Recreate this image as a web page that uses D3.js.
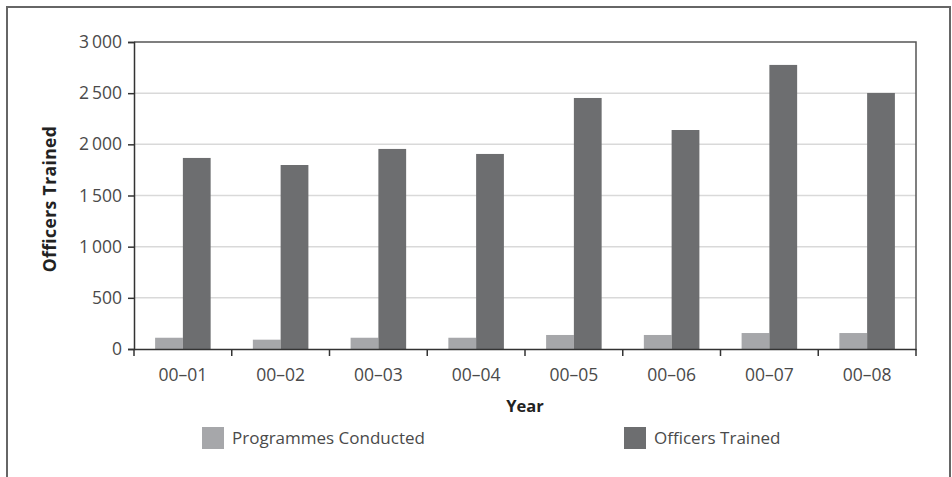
<!DOCTYPE html>
<html>
<head>
<meta charset="utf-8">
<script src="https://cdn.jsdelivr.net/npm/d3@7"></script>
<style>
  body { margin: 0; background: #fff; }
  svg text { font-family: "Open Sans", sans-serif; }
</style>
</head>
<body>
<div id="chart"></div>
<script>
var years = ['00–01', '00–02', '00–03', '00–04', '00–05', '00–06', '00–07', '00–08'];
var programmes = [110, 91, 110, 110, 137, 137, 156, 156];
var officers = [1867, 1798, 1955, 1906, 2453, 2140, 2776, 2502];
var seriesNames = ['Programmes Conducted', 'Officers Trained'];
var yTicks = [0, 500, 1000, 1500, 2000, 2500, 3000];

var width = 952, height = 477;
var margin = {top: 42, right: 36, bottom: 128, left: 134};
var colors = ['#a6a7aa', '#6d6e70'];

var svg = d3.select('#chart').append('svg')
  .attr('width', width)
  .attr('height', height);

// outer frame
svg.append('path')
  .attr('d', 'M7,' + height + 'V7H950V' + height)
  .attr('fill', 'none')
  .attr('stroke', '#666')
  .attr('stroke-width', 2);

var x = d3.scaleBand()
  .domain(years)
  .range([margin.left, width - margin.right]);

var x1 = d3.scaleBand()
  .domain([0, 1])
  .range([0, x.bandwidth()])
  .paddingOuter(0.76)
  .paddingInner(0);

var y = d3.scaleLinear()
  .domain([0, 3000])
  .range([height - margin.bottom, margin.top]);

var fmt = function(d) { return d3.format(',')(d).replace(',', '\u2009'); };

// gridlines
svg.append('g')
  .selectAll('line')
  .data(yTicks.slice(1, -1)).enter()
  .append('line')
  .attr('x1', margin.left).attr('x2', width - margin.right)
  .attr('y1', function(d) { return y(d); })
  .attr('y2', function(d) { return y(d); })
  .attr('stroke', '#d9d9d9')
  .attr('stroke-width', 1.5);

// bars
var rows = years.map(function(yr, i) { return {year: yr, vals: [programmes[i], officers[i]]}; });
var groups = svg.append('g').selectAll('g')
  .data(rows).enter()
  .append('g')
  .attr('transform', function(d) { return 'translate(' + x(d.year) + ',0)'; });

groups.selectAll('rect')
  .data(function(d) { return d.vals; }).enter()
  .append('rect')
  .attr('x', function(d, i) { return x1(i); })
  .attr('width', x1.bandwidth())
  .attr('y', function(d) { return y(d); })
  .attr('height', function(d) { return y(0) - y(d); })
  .attr('fill', function(d, i) { return colors[i]; });

// plot frame top/right
svg.append('path')
  .attr('d', 'M' + margin.left + ',' + margin.top + 'H' + (width - margin.right) + 'V' + (height - margin.bottom))
  .attr('fill', 'none')
  .attr('stroke', '#555')
  .attr('stroke-width', 1.5);

// axes
var yAxis = svg.append('g')
  .attr('transform', 'translate(' + margin.left + ',0)')
  .call(d3.axisLeft(y).tickValues(yTicks).tickFormat(fmt).tickSize(6).tickPadding(6));

var xAxis = svg.append('g')
  .attr('transform', 'translate(0,' + (height - margin.bottom) + ')')
  .call(d3.axisBottom(x).tickSize(0).tickPadding(20));

// category boundary ticks
xAxis.selectAll('.edge')
  .data(d3.range(years.length + 1)).enter()
  .append('line')
  .attr('class', 'edge')
  .attr('x1', function(i) { return margin.left + i * x.step(); })
  .attr('x2', function(i) { return margin.left + i * x.step(); })
  .attr('y1', 0).attr('y2', 7)
  .attr('stroke', '#333')
  .attr('stroke-width', 1.5);

[yAxis, xAxis].forEach(function(a) {
  a.select('.domain').attr('stroke', '#333').attr('stroke-width', 1.5);
  a.selectAll('.tick line').attr('stroke', '#333').attr('stroke-width', 1.5);
  a.selectAll('text')
    .attr('font-family', '"Open Sans", sans-serif')
    .attr('font-size', 17.5)
    .attr('fill', '#4a4a4a');
});

// axis titles
svg.append('text')
  .attr('transform', 'translate(56,199) rotate(-90)')
  .attr('text-anchor', 'middle')
  .attr('font-size', 17.5)
  .attr('font-weight', 'bold')
  .attr('letter-spacing', 0.4)
  .attr('fill', '#222')
  .text('Officers Trained');

svg.append('text')
  .attr('x', (margin.left + width - margin.right) / 2)
  .attr('y', 412)
  .attr('text-anchor', 'middle')
  .attr('font-size', 16.5)
  .attr('font-weight', 'bold')
  .attr('fill', '#222')
  .text('Year');

// legend
var legendX = [202, 624];
var legend = svg.append('g').selectAll('g')
  .data(seriesNames).enter()
  .append('g')
  .attr('transform', function(d, i) { return 'translate(' + legendX[i] + ',427)'; });

legend.append('rect')
  .attr('width', 22).attr('height', 22)
  .attr('fill', function(d, i) { return colors[i]; });

legend.append('text')
  .attr('x', 30).attr('y', 17)
  .attr('font-size', 17)
  .attr('fill', '#4a4a4a')
  .text(function(d) { return d; });
</script>
</body>
</html>
